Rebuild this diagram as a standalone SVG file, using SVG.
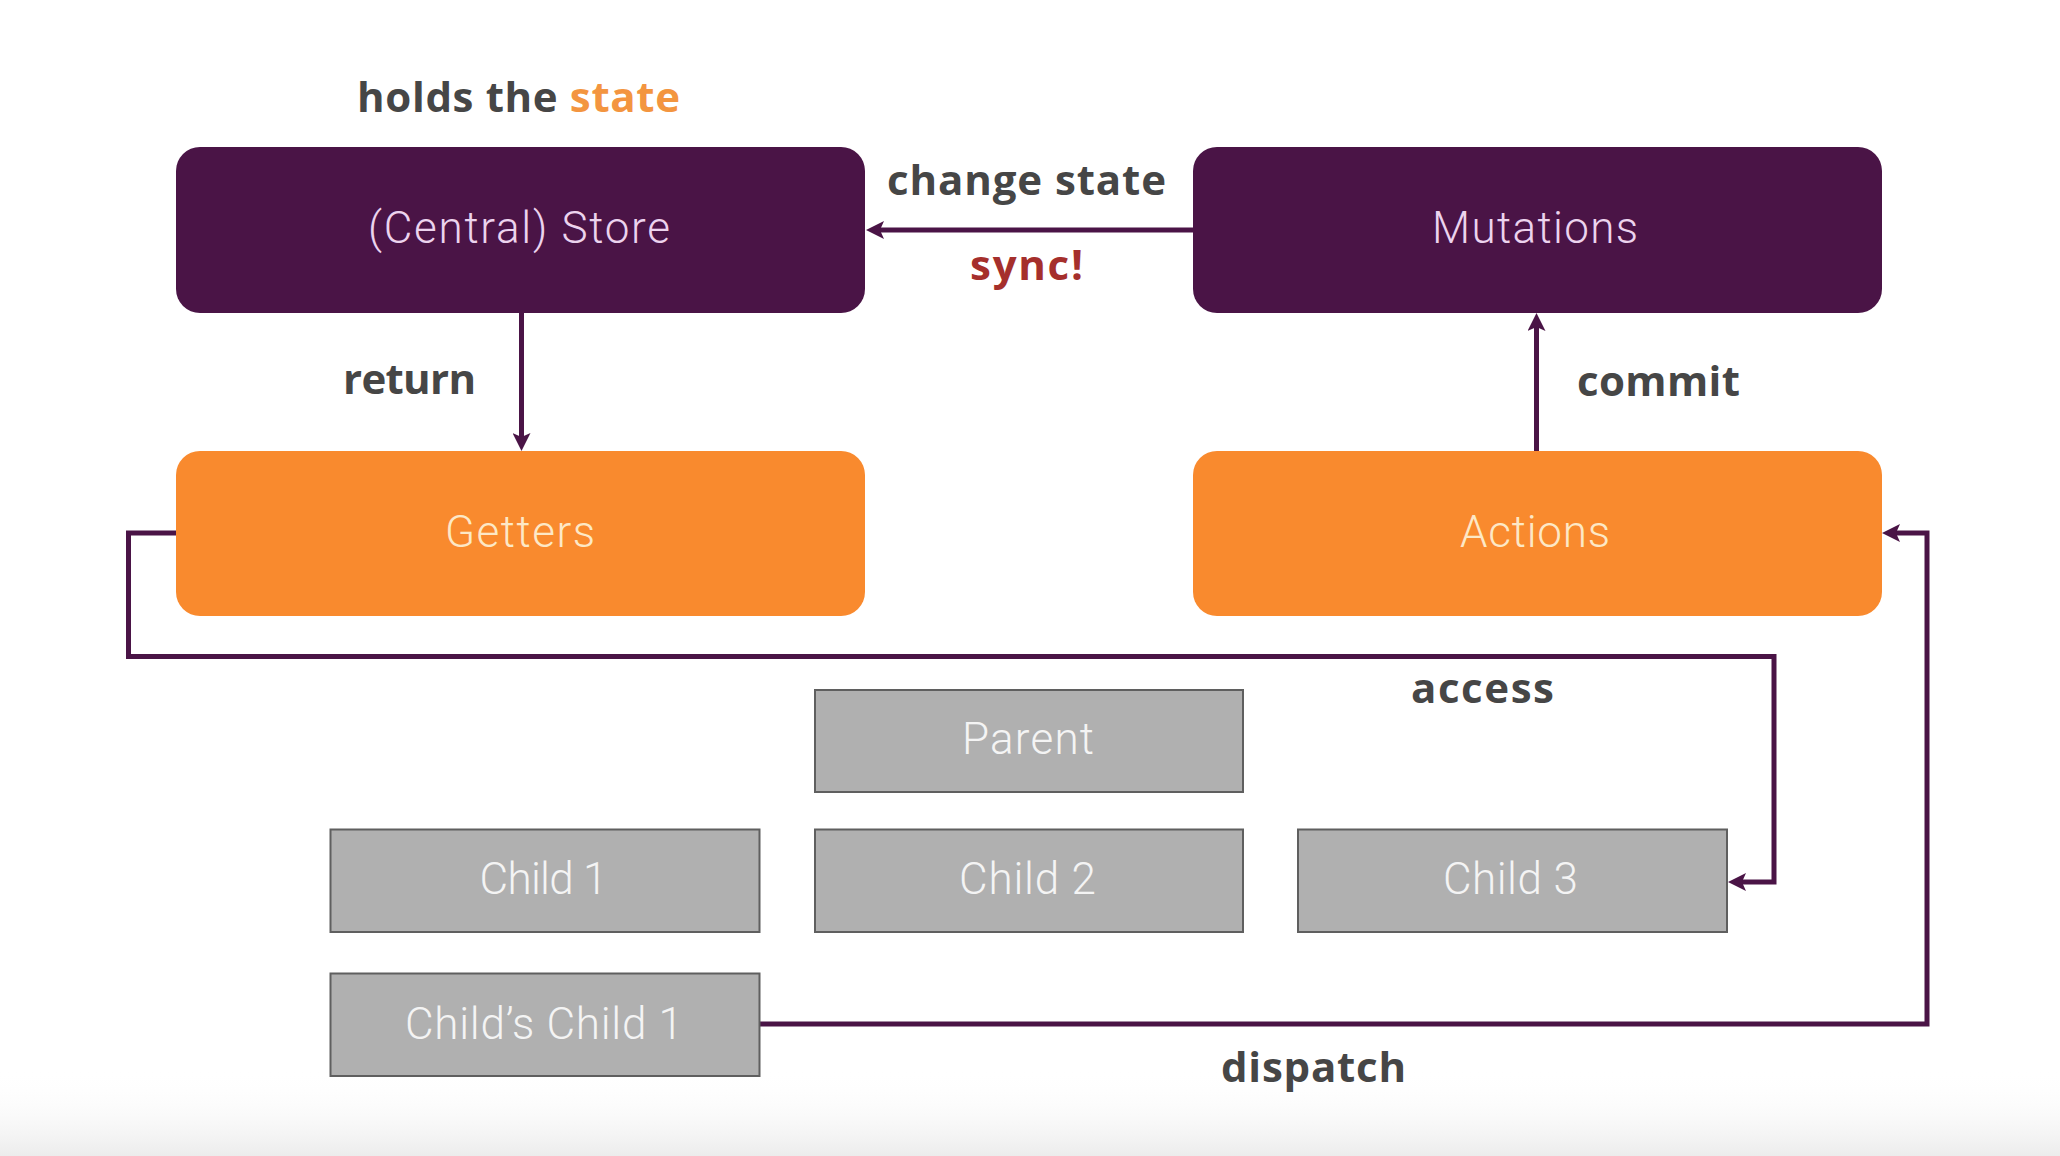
<svg xmlns="http://www.w3.org/2000/svg" width="2060" height="1156" viewBox="0 0 2060 1156">
  <style>
    .store { fill: #4a1446; }
    .orange { fill: #f98a2e; }
    .gray { fill: #b0b0b0; stroke: #5f5f5f; stroke-width: 2; }
    .ntext { font-family: Roboto, "Liberation Sans", sans-serif; font-weight: 300; font-size: 44px; }
    .onpurple { fill: #ecd3ee; }
    .onorange { fill: #fde8c6; }
    .ongray { fill: #f4f4f4; }
    .label { font-family: "Open Sans", "Liberation Sans", sans-serif; font-weight: 700; font-size: 42px; fill: #464646; }
    .conn { fill: none; stroke: #4a1446; stroke-width: 5; marker-end: url(#arrow); }
  </style>
  <defs>
    <marker id="arrow" viewBox="0 0 18 18" refX="12" refY="9" markerWidth="18" markerHeight="18" markerUnits="userSpaceOnUse" orient="auto">
      <path d="M0,0 L18,9 L0,18 L4,9 Z" fill="#4a1446"/>
    </marker>
    <linearGradient id="bottomShade" x1="0" y1="0" x2="0" y2="1">
      <stop offset="0" stop-color="#ffffff" stop-opacity="0"/>
      <stop offset="1" stop-color="#ececec" stop-opacity="1"/>
    </linearGradient>
  </defs>

  <rect x="0" y="0" width="2060" height="1156" fill="#ffffff"/>
  <rect x="0" y="1070" width="2060" height="86" fill="url(#bottomShade)"/>

  <g id="connectors">
    <path id="change-state" class="conn" d="M1193,230 H872"/>
    <path id="return" class="conn" d="M521.5,313 V445"/>
    <path id="commit" class="conn" d="M1536.5,451 V319"/>
    <path id="access" class="conn" d="M176,533 H128.5 V656.5 H1774 V882 H1734" stroke-linejoin="miter"/>
    <path id="dispatch" class="conn" d="M759.5,1024 H1927 V533 H1888"/>
  </g>

  <g id="store">
    <rect class="store" x="176" y="147" width="689" height="166" rx="24"/>
    <text class="ntext onpurple" x="368" y="243" textLength="302">(Central) Store</text>
  </g>
  <g id="mutations">
    <rect class="store" x="1193" y="147" width="689" height="166" rx="24"/>
    <text class="ntext onpurple" x="1432" y="242.5" textLength="206">Mutations</text>
  </g>
  <g id="getters">
    <rect class="orange" x="176" y="451" width="689" height="165" rx="24"/>
    <text class="ntext onorange" x="445" y="546.5" textLength="150">Getters</text>
  </g>
  <g id="actions">
    <rect class="orange" x="1193" y="451" width="689" height="165" rx="24"/>
    <text class="ntext onorange" x="1460" y="546.5" textLength="150">Actions</text>
  </g>
  <g id="parent">
    <rect class="gray" x="815" y="690" width="428" height="102"/>
    <text class="ntext ongray" x="962" y="754" textLength="132">Parent</text>
  </g>
  <g id="child1">
    <rect class="gray" x="330.5" y="829.5" width="429" height="102.5"/>
    <text class="ntext ongray" x="479.5" y="894" textLength="128">Child 1</text>
  </g>
  <g id="child2">
    <rect class="gray" x="815" y="829.5" width="428" height="102.5"/>
    <text class="ntext ongray" x="959" y="894" textLength="137">Child 2</text>
  </g>
  <g id="child3">
    <rect class="gray" x="1298" y="829.5" width="429" height="102.5"/>
    <text class="ntext ongray" x="1443" y="894" textLength="135">Child 3</text>
  </g>
  <g id="childs-child1">
    <rect class="gray" x="330.5" y="973.5" width="429" height="102.5"/>
    <text class="ntext ongray" x="405" y="1039" textLength="278">Child’s Child 1</text>
  </g>

  <g id="labels">
    <text class="label" x="357" y="112" textLength="323">holds the <tspan fill="#f39540">state</tspan></text>
    <text class="label" x="887" y="195" textLength="279">change state</text>
    <text class="label" x="970" y="280" textLength="113" fill="#a52f2c" style="fill:#a52f2c">sync!</text>
    <text class="label" x="343" y="394" textLength="133">return</text>
    <text class="label" x="1577" y="396" textLength="163">commit</text>
    <text class="label" x="1411" y="703" textLength="143">access</text>
    <text class="label" x="1221" y="1082" textLength="185">dispatch</text>
  </g>
</svg>
